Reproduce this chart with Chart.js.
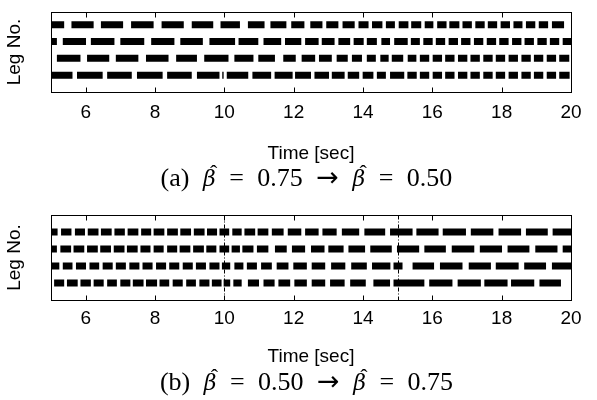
<!DOCTYPE html>
<html lang="en">
<head>
<meta charset="UTF-8">
<title>Gait diagrams</title>
<script src="https://cdn.jsdelivr.net/npm/chart.js"></script>
<style>
  body { margin: 0; background: #fff; }
  #page { position: relative; width: 597px; height: 400px; overflow: hidden; }
  .panel { position: absolute; left: 0; }
  .caption {
    position: absolute; left: 0; width: 597px; box-sizing: border-box;
    padding-left: 16px; text-align: center; white-space: nowrap;
    font-family: "Liberation Serif", serif; font-size: 26px; line-height: 30px;
    word-spacing: 7px; color: #000;
  }
  .hb { position: relative; display: inline-block; }
  .hb i { font-family: "DejaVu Serif", serif; font-size: 22px; }
  .hb .hat { position: absolute; left: 7px; top: -5px; font-size: 22px; font-style: normal; }
  .arr { font-family: "DejaVu Sans", sans-serif; font-size: 27px; }
</style>
</head>
<body>
<div id="page">
  <canvas id="gaitA" class="panel" width="597" height="169" style="top:0"></canvas>
  <div class="caption" style="top:162px">(a) <span class="hb"><i>β</i><span class="hat">ˆ</span></span> = 0.75 <span class="arr">→</span> <span class="hb"><i>β</i><span class="hat">ˆ</span></span> = 0.50</div>
  <canvas id="gaitB" class="panel" width="597" height="172" style="top:200px"></canvas>
  <div class="caption" style="top:366px">(b) <span class="hb"><i>β</i><span class="hat">ˆ</span></span> = 0.50 <span class="arr">→</span> <span class="hb"><i>β</i><span class="hat">ˆ</span></span> = 0.75</div>
</div>
<script>
const timeTicks = [6, 8, 10, 12, 14, 16, 18, 20];
const legLevels = [4, 3, 2, 1];
const switchTimes = [10, 15];   // dash-dot markers in panel (b)

// stance intervals [start, end] in seconds, panel (a), top row first
const legA4 = [[5.0,5.38],[5.59,6.23],[6.44,7.08],[7.31,7.96],[8.19,8.83],[9.06,9.68],[9.89,10.45],[10.68,11.16],[11.33,11.79],[11.93,12.31],[12.48,12.83],[12.94,13.29],[13.41,13.76],[13.87,14.16],[14.26,14.56],[14.66,14.92],[15.03,15.31],[15.39,15.68],[15.78,16.03],[16.14,16.41],[16.49,16.78],[16.87,17.14],[17.24,17.51],[17.60,17.87],[17.97,18.24],[18.34,18.60],[18.70,18.97],[19.07,19.34],[19.45,19.80]];
const legA3 = [[5.0,5.17],[5.34,6.01],[6.15,6.83],[7.0,7.69],[7.89,8.56],[8.73,9.38],[9.57,10.31],[10.41,10.98],[11.13,11.64],[11.75,12.22],[12.33,12.72],[12.81,13.18],[13.29,13.63],[13.73,14.02],[14.11,14.40],[14.53,14.78],[14.90,15.29],[15.38,15.64],[15.74,16.01],[16.10,16.37],[16.47,16.74],[16.83,17.10],[17.20,17.47],[17.57,17.84],[17.93,18.20],[18.30,18.57],[18.66,18.93],[19.03,19.30],[19.39,19.66],[19.76,20.0]];
const legA2 = [[5.17,5.85],[6.04,6.68],[6.87,7.52],[7.74,8.39],[8.61,9.21],[9.42,10.12],[10.29,10.84],[10.98,11.46],[11.70,12.06],[12.23,12.62],[12.73,13.10],[13.24,13.56],[13.68,13.97],[14.11,14.37],[14.50,14.74],[14.83,15.16],[15.29,15.54],[15.64,15.91],[16.01,16.28],[16.37,16.64],[16.74,17.01],[17.10,17.37],[17.47,17.74],[17.83,18.10],[18.20,18.47],[18.57,18.84],[18.93,19.20],[19.30,19.57],[19.66,19.95]];
const legA1 = [[5.0,5.62],[5.75,6.49],[6.62,7.33],[7.48,8.22],[8.35,9.06],[9.21,9.86],[9.94,9.98],[10.07,10.69],[10.81,11.35],[11.45,11.97],[12.04,12.50],[12.60,13.02],[13.10,13.47],[13.56,13.89],[13.99,14.30],[14.40,14.66],[14.78,15.19],[15.28,15.55],[15.64,15.91],[16.01,16.28],[16.37,16.64],[16.74,17.01],[17.10,17.37],[17.47,17.74],[17.83,18.10],[18.20,18.47],[18.57,18.84],[18.93,19.20],[19.30,19.57],[19.66,19.96]];

// panel (b)
const legB4 = [[5.0,5.19],[5.29,5.59],[5.69,5.98],[6.06,6.37],[6.44,6.75],[6.83,7.13],[7.21,7.52],[7.60,7.89],[7.96,8.27],[8.35,8.66],[8.73,9.04],[9.12,9.43],[9.50,9.79],[9.86,10.14],[10.23,10.50],[10.58,10.89],[10.96,11.27],[11.37,11.71],[11.83,12.22],[12.33,12.72],[12.83,13.24],[13.39,13.89],[14.04,14.64],[14.78,15.43],[15.54,16.18],[16.30,16.97],[17.11,17.76],[17.91,18.56],[18.70,19.33],[19.47,20.0]];
const legB3 = [[5.0,5.17],[5.27,5.58],[5.65,5.96],[6.04,6.35],[6.42,6.73],[6.81,7.12],[7.19,7.50],[7.58,7.87],[7.96,8.25],[8.35,8.64],[8.71,9.02],[9.10,9.41],[9.48,9.77],[9.86,10.14],[10.21,10.45],[10.52,10.84],[10.94,11.27],[11.46,11.80],[11.95,12.33],[12.50,12.89],[13.00,13.44],[13.58,14.06],[14.21,14.83],[14.98,15.62],[15.77,16.39],[16.56,17.21],[17.37,18.01],[18.17,18.80],[18.97,19.61],[19.76,20.0]];
const legB2 = [[5.0,5.24],[5.34,5.62],[5.72,6.01],[6.11,6.39],[6.49,6.78],[6.87,7.16],[7.26,7.55],[7.64,7.93],[8.03,8.32],[8.41,8.70],[8.80,9.09],[9.18,9.47],[9.57,9.86],[9.93,10.17],[10.29,10.55],[10.65,10.94],[11.06,11.37],[11.51,11.85],[11.99,12.38],[12.52,12.91],[13.08,13.49],[13.66,14.11],[14.26,14.79],[14.88,15.14],[15.43,16.05],[16.22,16.87],[17.05,17.69],[17.83,18.49],[18.65,19.28],[19.45,20.0]];
const legB1 = [[5.09,5.38],[5.46,5.77],[5.85,6.15],[6.23,6.52],[6.62,6.90],[7.00,7.29],[7.36,7.67],[7.74,8.06],[8.13,8.41],[8.51,8.80],[8.90,9.18],[9.28,9.57],[9.64,9.92],[9.98,10.17],[10.26,10.50],[10.68,11.00],[11.13,11.45],[11.56,11.90],[12.02,12.38],[12.52,12.91],[13.05,13.47],[13.63,14.08],[14.30,14.78],[14.88,15.77],[15.91,16.58],[16.73,17.40],[17.50,18.17],[18.27,18.94],[19.09,19.71]];

const sans = "'Liberation Sans', Arial, sans-serif";

// one polyline per leg, broken by null points between stance phases
function rowData(intervals, level) {
  const pts = [];
  intervals.forEach(([s, e]) => {
    pts.push({ x: s, y: level }, { x: e, y: level }, { x: e, y: null });
  });
  return pts;
}

// MATLAB-like box with inward ticks, plus optional dash-dot markers
const frame = {
  id: 'frame',
  afterDatasetsDraw(chart, args, opts) {
    const { ctx, chartArea: a, scales: { x } } = chart;
    const L = Math.round(a.left) + 0.5, R = Math.round(a.right) + 0.5;
    const T = Math.round(a.top) + 0.5, B = Math.round(a.bottom) + 0.5;
    ctx.save();
    ctx.strokeStyle = '#000';
    ctx.lineWidth = 1;
    ctx.setLineDash([4, 2, 1, 2]);
    (opts.events || []).forEach(t => {
      const px = Math.round(x.getPixelForValue(t)) + 0.5;
      ctx.beginPath();
      ctx.moveTo(px, T);
      ctx.lineTo(px, B);
      ctx.stroke();
    });
    ctx.setLineDash([]);
    ctx.strokeRect(L, T, R - L, B - T);
    x.ticks.forEach(tk => {
      const px = Math.round(x.getPixelForValue(tk.value)) + 0.5;
      ctx.beginPath();
      ctx.moveTo(px, B); ctx.lineTo(px, B - 5);
      ctx.moveTo(px, T); ctx.lineTo(px, T + 5);
      ctx.stroke();
    });
    ctx.restore();
  }
};

// axisHeight: space under the plot box for tick labels and x title
function makeGait(id, legs, yMax, padTop, axisHeight, tickPad, events) {
  return new Chart(document.getElementById(id), {
    type: 'line',
    data: {
      datasets: legs.map((iv, i) => ({
        label: 'Leg ' + legLevels[i],
        data: rowData(iv, legLevels[i]),
        borderColor: '#000',
        borderWidth: 7,
        borderCapStyle: 'butt',
        pointRadius: 0,
        spanGaps: false,
        fill: false
      }))
    },
    options: {
      animation: false,
      responsive: false,
      layout: { padding: { left: 0, right: 26, top: padTop, bottom: 0 } },
      plugins: {
        legend: { display: false },
        tooltip: { enabled: false },
        frame: { events: events }
      },
      scales: {
        x: {
          type: 'linear', min: 5, max: 20,
          afterBuildTicks: s => { s.ticks = timeTicks.map(v => ({ value: v })); },
          afterFit: s => { s.height = axisHeight; },
          grid: { display: false, drawTicks: false },
          border: { display: false },
          ticks: { color: '#000', autoSkip: false, maxRotation: 0, padding: tickPad, font: { family: sans, size: 19 } },
          title: { display: true, text: 'Time [sec]', color: '#000', font: { family: sans, size: 19 }, padding: { top: 4, bottom: 4 } }
        },
        y: {
          min: 0, max: yMax,
          afterFit: s => { s.width = 51; },
          grid: { display: false, drawTicks: false },
          border: { display: false },
          ticks: { display: false },
          title: { display: true, text: 'Leg No.', color: '#000', font: { family: sans, size: 19 }, padding: { top: 3, bottom: 4 } }
        }
      }
    },
    plugins: [frame]
  });
}

makeGait('gaitA', [legA4, legA3, legA2, legA1], 4.75, 12, 77, 9, []);
makeGait('gaitB', [legB4, legB3, legB2, legB1], 5, 15, 72, 7, switchTimes);
</script>
</body>
</html>
